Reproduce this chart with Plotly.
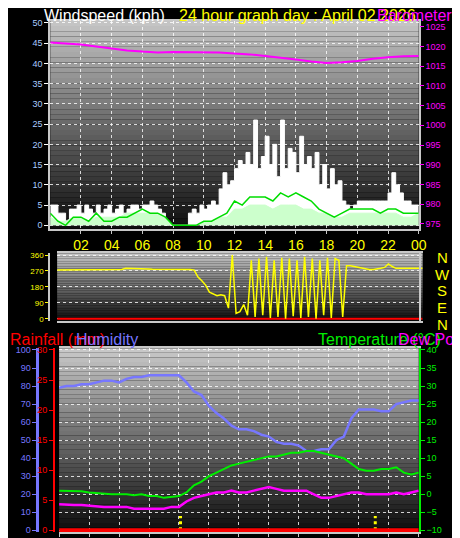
import plotly.graph_objects as go

W, H = 460, 538

# ---- data ----
hours_q = [i * 0.25 for i in range(97)]
hours_h = [i * 0.5 for i in range(49)]
hours_p = list(range(25))

pressure = [1021, 1020.8, 1020.5, 1020, 1019.5, 1019, 1018.7, 1018.5, 1018.6, 1018.6, 1018.6, 1018.5,
            1018.2, 1018, 1017.6, 1017.2, 1016.7, 1016.2, 1015.8, 1016, 1016.3, 1016.9, 1017.3, 1017.5, 1017.6]

gust = [5, 5, 3, 3, 0, 4, 4, 5, 3, 5, 4, 3, 5, 3, 4, 5, 3, 4, 5, 3, 4, 5, 5, 4,
        5, 5, 6, 5, 4, 3, 0, 0, 0, 0, 0, 0, 3, 4, 3, 5, 4, 5, 6, 5, 9, 13, 10, 11,
        14, 16, 15, 18, 15, 26, 14, 17, 22, 15, 20, 12, 26, 14, 19, 18, 13, 22, 15, 17,
        14, 18, 10, 15, 9, 14, 10, 11, 6, 5, 4, 5, 6, 6, 6, 6, 6, 6, 6, 6,
        8, 13, 10, 8, 6, 6, 5, 5, 5]

speed = [3, 1, 0, 2, 2, 1, 3, 1, 1, 2, 2, 3, 4, 3, 3, 2, 0, 0, 0, 0, 1, 1, 2, 3, 6,
         5, 7, 7, 7, 6, 8, 7, 8, 7, 6, 4, 3, 2, 3, 4, 4, 4, 4, 3, 4, 4, 3, 3, 3]

avg_speed = [2, 1, 1, 2, 2, 1, 2, 2, 2, 2, 3, 3, 3, 3, 3, 2, 0, 0, 0, 0, 1, 1, 2, 2, 4,
             4, 5, 5, 5, 4, 5, 5, 5, 4, 4, 3, 3, 2, 2, 3, 3, 3, 3, 3, 3, 3, 2, 2, 3]

direction = [275, 275, 275, 275, 275, 275, 275, 275, 275, 276, 276, 277, 278, 278, 278, 278,
             278, 278, 285, 285, 285, 284, 283, 282, 281, 280, 280, 279, 278, 278, 278, 278,
             278, 278, 278, 278, 275, 235, 215, 190, 150, 140, 130, 135, 130, 60, 360, 30,
             40, 80, 20, 330, 10, 340, 20, 350, 5, 330, 10, 345, 0, 340, 15, 330, 5, 350,
             10, 340, 0, 330, 20, 345, 5, 340, 330, 10, 300, 300, 295, 290, 285, 280, 278, 278,
             280, 285, 290, 310, 295, 285, 285, 285, 285, 285, 285, 285, 285]

humidity = [79, 80, 80, 81, 81, 82, 83, 83, 82, 84, 85, 85, 86, 86, 86, 86, 86, 82, 77, 75,
            69, 65, 62, 58, 56, 56, 55, 53, 52, 49, 48, 48, 47, 44, 44, 45, 45, 50, 52, 62,
            67, 67, 67, 66, 66, 70, 71, 72, 72]

temperature = [1, 1, 0.8, 0.8, 0.5, 0.3, 0, 0, 0, 0, -0.3, 0, -0.5, -0.5, -1, -0.8, -0.5, 0.5,
               2.5, 3.5, 5, 6, 7, 8, 8.5, 9, 9.5, 10, 10.5, 10.5, 11, 11.5, 11.5, 12, 12, 11.5,
               11, 10.5, 10, 8.5, 7, 6.5, 6.5, 7, 7, 7.5, 6, 5.5, 6]

dewpoint = [-2.8, -3, -3, -3, -3.2, -3.2, -3.5, -3.5, -3.5, -3.5, -4, -4, -4, -4.2, -4, -3.5,
            -3.5, -2, -1, -0.5, 0, 0.5, 0.5, 1, 0.5, 0.5, 1, 1.5, 2, 1.5, 1, 1, 1, 1, 0, -1,
            -1, -0.5, 0, 0.5, 0.5, 0, 0, 0, 0, 0.5, 0, 0.5, 1]

rain_hours = [0, 24]
rain_mm = [0, 0]
rain_mark_hours = [8.1, 21.1]

hour_ticks = [2, 4, 6, 8, 10, 12, 14, 16, 18, 20, 22, 24]
hour_labels = ["02", "04", "06", "08", "10", "12", "14", "16", "18", "20", "22", "00"]


def px(x):
    return x / W


def py(y):
    return 1 - y / H


fig = go.Figure()

# top panel: wind + pressure
fig.add_trace(go.Scatter(x=hours_q, y=gust, mode="lines", line=dict(color="white", width=1, shape="hv"),
                         fill="tozeroy", fillcolor="white", xaxis="x", yaxis="y"))
fig.add_trace(go.Scatter(x=hours_h, y=avg_speed, mode="lines", line=dict(color="#ccffcc", width=1),
                         fill="tozeroy", fillcolor="#ccffcc", xaxis="x", yaxis="y"))
fig.add_trace(go.Scatter(x=hours_h, y=speed, mode="lines", line=dict(color="#00dd00", width=1.5),
                         xaxis="x", yaxis="y"))
fig.add_trace(go.Scatter(x=hours_p, y=pressure, mode="lines", line=dict(color="#ff00ff", width=2),
                         xaxis="x", yaxis="y2"))

# middle panel: direction
fig.add_trace(go.Scatter(x=rain_hours, y=rain_mm, mode="lines", line=dict(color="red", width=2),
                         xaxis="x2", yaxis="y3"))
fig.add_trace(go.Scatter(x=hours_q, y=direction, mode="lines", line=dict(color="yellow", width=1.5),
                         xaxis="x2", yaxis="y3"))

# bottom panel
fig.add_trace(go.Scatter(x=hours_h, y=humidity, mode="lines", line=dict(color="#7777ff", width=2.5),
                         xaxis="x3", yaxis="y4"))
fig.add_trace(go.Scatter(x=hours_h, y=temperature, mode="lines", line=dict(color="#00ee00", width=2),
                         xaxis="x3", yaxis="y6"))
fig.add_trace(go.Scatter(x=hours_h, y=dewpoint, mode="lines", line=dict(color="#ff00ff", width=2.5),
                         xaxis="x3", yaxis="y6"))
mx, my = [], []
for h in rain_mark_hours:
    mx += [h, h, None]
    my += [0, 2.4, None]
fig.add_trace(go.Scatter(x=mx, y=my, mode="lines", line=dict(color="yellow", width=3, dash="dot"),
                         xaxis="x3", yaxis="y5"))
fig.add_trace(go.Scatter(x=rain_hours, y=rain_mm, mode="lines", line=dict(color="red", width=4),
                         xaxis="x3", yaxis="y5"))

# gradient backgrounds
shapes = []
def gradient(x0, x1, y0, y1, top=196, bottom=14, n=40):
    for i in range(n):
        c = int(top + (bottom - top) * i / (n - 1))
        shapes.append(dict(type="rect", xref="paper", yref="paper", layer="below",
                           x0=px(x0), x1=px(x1),
                           y0=py(y0 + (y1 - y0) * (i + 1) / n), y1=py(y0 + (y1 - y0) * i / n),
                           line=dict(width=0), fillcolor=f"rgb({c},{c},{c})"))
gradient(43, 418, 10, 220)
gradient(50, 422, 245, 313)
gradient(52, 418, 341, 527, top=200)

grid = dict(showgrid=True, gridcolor="rgba(255,255,255,0.8)", griddash="dot", gridwidth=1)
frame = dict(showline=True, linecolor="#c8c8c8", linewidth=2, mirror=True, zeroline=False)
tf = lambda c, s=9: dict(color=c, size=s, family="Arial")

fig.update_layout(
    width=W, height=H, margin=dict(l=0, r=0, t=0, b=0),
    paper_bgcolor="black", plot_bgcolor="rgba(0,0,0,0)", showlegend=False,
    shapes=shapes,
    xaxis=dict(domain=[px(43), px(418)], range=[0, 24], tickvals=hour_ticks, ticktext=hour_labels,
               tickfont=tf("yellow", 14), ticks="outside", ticklen=3, tickcolor="#c8c8c8",
               anchor="y", **grid, **frame),
    yaxis=dict(domain=[py(220), py(10)], range=[-0.8, 50.5], dtick=5, tickfont=tf("#aaccff"),
               ticks="outside", ticklen=4, tickcolor="white", **grid, **frame),
    yaxis2=dict(overlaying="y", side="right", range=[973.8, 1026.5], tickvals=list(range(975, 1030, 5)),
                tickfont=tf("#ff00ff"), ticks="outside", ticklen=4, tickcolor="#ff00ff",
                showgrid=False, zeroline=False),
    xaxis2=dict(domain=[px(50), px(422)], range=[0, 24], showticklabels=False, showgrid=False,
                anchor="y3", **frame),
    yaxis3=dict(domain=[py(313), py(245)], range=[-10, 370], tickvals=[0, 90, 180, 270, 360],
                tickfont=tf("yellow", 8), ticks="outside", ticklen=3, tickcolor="yellow",
                **grid, **frame),
    xaxis3=dict(domain=[px(52), px(418)], range=[0, 24], showticklabels=False, dtick=2,
                ticks="outside", ticklen=3, tickcolor="#c8c8c8", anchor="y4", **grid, **frame),
    yaxis4=dict(domain=[py(527), py(341)], range=[-1, 101], dtick=10, tickfont=tf("#7777ff"),
                anchor="free", position=px(30), side="left", showline=True, linecolor="#7777ff",
                linewidth=3, ticks="outside", ticklen=4, tickcolor="#7777ff", **grid, zeroline=False),
    yaxis5=dict(overlaying="y4", range=[-0.3, 30.3], dtick=5, tickfont=tf("red"), anchor="free",
                position=px(47), side="left", showline=True, linecolor="red", linewidth=2,
                ticks="outside", ticklen=4, tickcolor="red", showgrid=False, zeroline=False),
    yaxis6=dict(overlaying="y4", range=[-10.5, 40.5], dtick=5, tickfont=tf("#00ee00"), side="right",
                anchor="x3", showline=True, linecolor="#00ee00", linewidth=2, ticks="outside",
                ticklen=4, tickcolor="#00ee00", showgrid=False, zeroline=False),
)

ann = [
    ("Windspeed (kph)", 35, 5, "white", 16),
    ("24 hour graph day : April 02 2026", 172, 5, "yellow", 16),
    ("Barometer (k", 373, 5, "#ff00ff", 16),
    ("N", 442, 249, "yellow", 15), ("W", 442, 266, "yellow", 15), ("S", 442, 283, "yellow", 15),
    ("E", 442, 300, "yellow", 15), ("N", 442, 317, "yellow", 15),
    ("Rainfall (mm)", 0, 332, "red", 16),
    ("Humidity", 67, 332, "#7777ff", 16),
    ("Temperature (°C)", 313, 332, "#00ee00", 16),
    ("Dew Point", 395, 332, "#ff00ff", 16),
]
fig.update_layout(annotations=[
    dict(text=t, x=px(x), y=py(y), xref="paper", yref="paper", xanchor="left" if t not in "NWSE" else "center",
         yanchor="middle", showarrow=False, font=dict(color=c, size=s, family="Arial"))
    for t, x, y, c, s in ann])

fig.write_html("out.html")
